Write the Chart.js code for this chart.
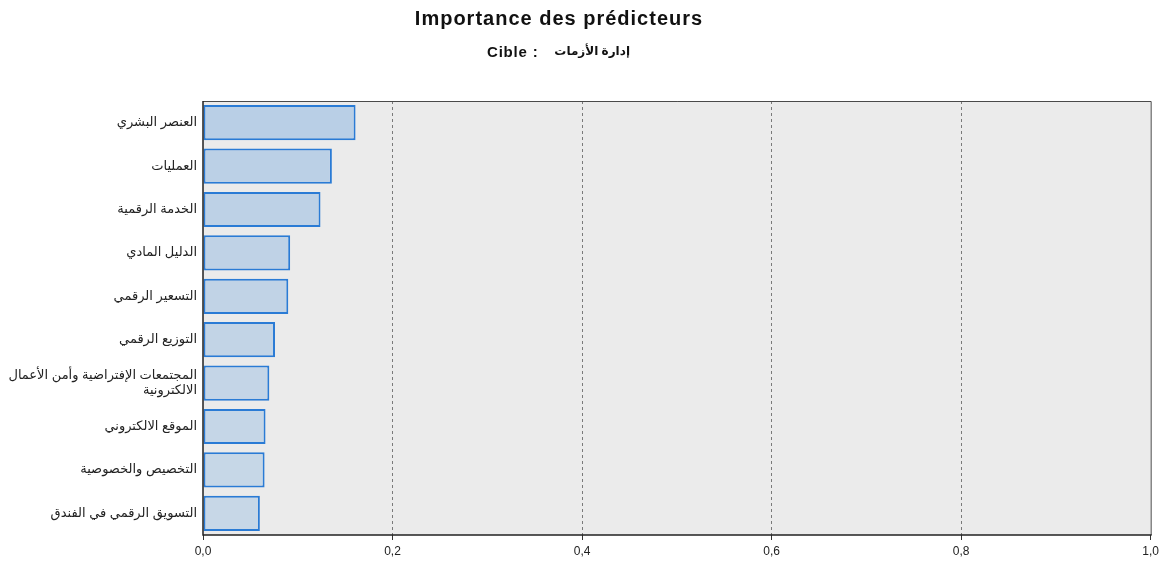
<!DOCTYPE html>
<html>
<head>
<meta charset="utf-8">
<script src="https://cdn.jsdelivr.net/npm/chart.js@4/dist/chart.umd.min.js"></script>
<style>
  html, body { margin: 0; padding: 0; background: #ffffff; }
  #wrap { width: 1163px; height: 561px; }
</style>
</head>
<body>
<div id="wrap"><canvas id="chart" width="1163" height="561"></canvas></div>
<script>
// Predictor names (Arabic), sorted by importance
const predictors = [
  'العنصر البشري',
  'العمليات',
  'الخدمة الرقمية',
  'الدليل المادي',
  'التسعير الرقمي',
  'التوزيع الرقمي',
  ['المجتمعات الإفتراضية وأمن الأعمال', 'الالكترونية'],
  'الموقع الالكتروني',
  'التخصيص والخصوصية',
  'التسويق الرقمي في الفندق'
];
// Normalised predictor importance
const importance = [0.161, 0.136, 0.124, 0.092, 0.090, 0.076, 0.070, 0.066, 0.065, 0.060];
const xTicks = [0, 0.2, 0.4, 0.6, 0.8, 1.0];

const titleText = 'Importance des prédicteurs';
const targetLabel = 'Cible :';
const targetName = 'إدارة الأزمات';

// slightly lighter fill down the list
const fills = ['#b9cfe6', '#bbd0e6', '#bdd1e6', '#bfd2e6', '#c1d3e6', '#c2d4e6', '#c4d5e7', '#c5d6e7', '#c6d7e7', '#c7d7e7'];

const FONT = '"Liberation Sans", Arial, "DejaVu Sans", sans-serif';

const framePlugin = {
  id: 'frame',
  beforeDraw(chart) {
    const { ctx, chartArea: a } = chart;
    ctx.save();
    ctx.fillStyle = '#ebebeb';
    ctx.fillRect(a.left, a.top, a.right - a.left, a.bottom - a.top);
    ctx.restore();
  },
  afterDraw(chart) {
    const { ctx, chartArea: a } = chart;
    ctx.save();
    ctx.strokeStyle = '#4a4a4a';
    ctx.lineWidth = 1;
    ctx.beginPath();
    ctx.moveTo(a.left, a.top + 0.5);
    ctx.lineTo(a.right + 0.5, a.top + 0.5);
    ctx.lineTo(a.right + 0.5, a.bottom);
    ctx.stroke();
    ctx.strokeStyle = '#222222';
    ctx.lineWidth = 1.5;
    ctx.beginPath();
    ctx.moveTo(a.left, a.top);
    ctx.lineTo(a.left, a.bottom);
    ctx.lineTo(a.right + 1, a.bottom);
    ctx.stroke();
    // title
    ctx.fillStyle = '#111111';
    ctx.textBaseline = 'middle';
    ctx.textAlign = 'center';
    ctx.font = 'bold 20px ' + FONT;
    ctx.letterSpacing = '1px';
    ctx.fillText(titleText, 559, 19);
    // subtitle: target variable
    ctx.letterSpacing = '0.8px';
    ctx.textAlign = 'left';
    ctx.font = 'bold 15px ' + FONT;
    ctx.fillText(targetLabel, 487, 53);
    ctx.letterSpacing = '0px';
    ctx.textAlign = 'right';
    ctx.font = 'bold 12px ' + FONT;
    ctx.fillText(targetName, 630, 52);
    ctx.restore();
  }
};

new Chart(document.getElementById('chart'), {
  type: 'bar',
  data: {
    labels: predictors,
    datasets: [{
      data: importance,
      backgroundColor: fills,
      borderColor: '#2a7bd5',
      borderWidth: 2,
      borderSkipped: false,
      categoryPercentage: 1.0,
      barPercentage: 0.81
    }]
  },
  options: {
    responsive: false,
    animation: false,
    indexAxis: 'y',
    layout: { padding: { top: 101, right: 11, left: 0, bottom: 0 } },
    plugins: { legend: { display: false }, tooltip: { enabled: false } },
    scales: {
      x: {
        min: 0, max: 1,
        afterBuildTicks: s => { s.ticks = xTicks.map(v => ({ value: v })); },
        afterFit: s => { s.height = 26; },
        border: { display: false, dash: [3, 3] },
        grid: {
          color: c => (c.tick && (c.tick.value === 0 || c.tick.value === 1)) ? 'rgba(0,0,0,0)' : '#7a7a7a',
          lineWidth: 1,
          drawTicks: true,
          tickLength: 5,
          tickColor: '#333333',
          tickBorderDash: []
        },
        ticks: {
          padding: 4,
          color: '#222222',
          font: { family: FONT, size: 12 },
          callback: v => Number(v).toFixed(1).replace('.', ',')
        }
      },
      y: {
        afterFit: s => { s.width = 203; },
        border: { display: false },
        grid: { display: false, drawTicks: false },
        ticks: {
          padding: 6,
          color: '#222222',
          font: { family: FONT, size: 13 }
        }
      }
    }
  },
  plugins: [framePlugin]
});
</script>
</body>
</html>
